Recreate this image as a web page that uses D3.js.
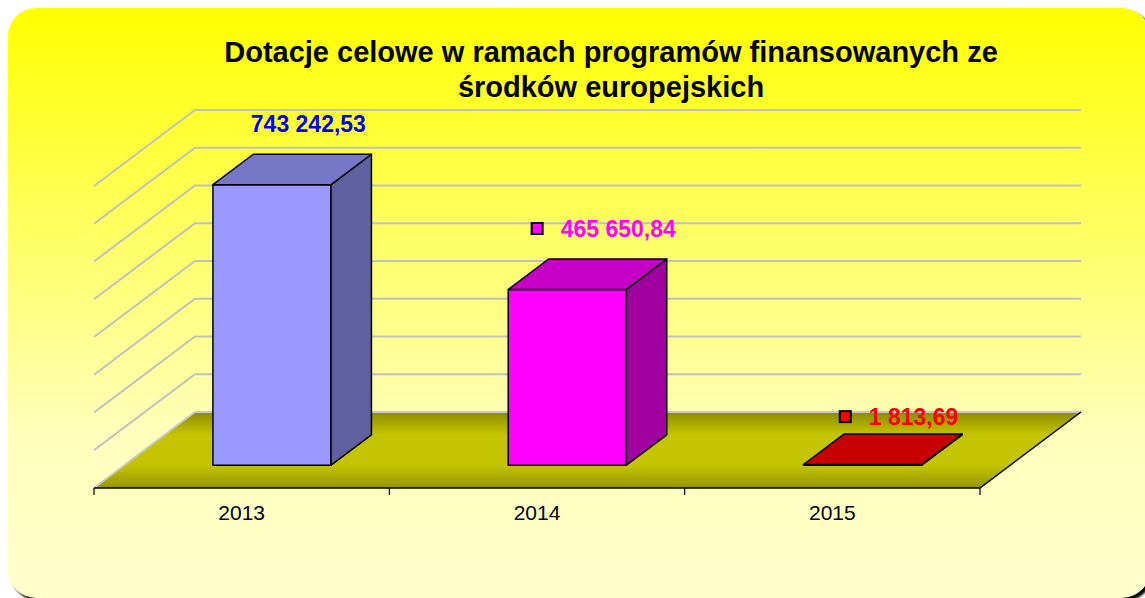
<!DOCTYPE html>
<html>
<head>
<meta charset="utf-8">
<script src="https://cdn.jsdelivr.net/npm/d3@7"></script>
<style>
  body { margin: 0; background: #ffffff; }
  text { font-family: "Liberation Sans", Arial, sans-serif; }
</style>
</head>
<body>
<svg id="chart" width="1145" height="598"></svg>
<script>
// data
var years = ["2013", "2014", "2015"];
var values = [743242.53, 465650.84, 1813.69];
var barColours = ["#9999ff", "#ff00ff", "#ff0000"];
var labelColours = ["#0000ff", "#ff00ff", "#ff0000"];
var showKey = [false, true, true];
var titleLines = ["Dotacje celowe w ramach programów finansowanych ze", "środków europejskich"];
var yMax = 800000, yStep = 100000;

var svg = d3.select("#chart");
var defs = svg.append("defs");

// panel background
var bg = defs.append("linearGradient").attr("id", "bg")
  .attr("x1", "0%").attr("y1", "0%").attr("x2", "0%").attr("y2", "100%");
bg.append("stop").attr("offset", 0).attr("stop-color", "#ffff00");
bg.append("stop").attr("offset", 0.72).attr("stop-color", "#ffffbc");
bg.append("stop").attr("offset", 1).attr("stop-color", "#ffffcc");

var floorGrad = defs.append("linearGradient").attr("id", "floor")
  .attr("x1", "0%").attr("y1", "0%").attr("x2", "0%").attr("y2", "100%");
floorGrad.append("stop").attr("offset", 0).attr("stop-color", "#8c8c00");
floorGrad.append("stop").attr("offset", 0.3).attr("stop-color", "#c4c400");
floorGrad.append("stop").attr("offset", 0.7).attr("stop-color", "#c4c400");
floorGrad.append("stop").attr("offset", 1).attr("stop-color", "#959500");

defs.append("filter").attr("id", "blur")
  .append("feGaussianBlur").attr("stdDeviation", 1);

svg.append("rect")
  .attr("x", 11).attr("y", 11).attr("width", 1142).attr("height", 590)
  .attr("rx", 28).attr("fill", "#000").attr("filter", "url(#blur)");
svg.append("rect")
  .attr("x", 8).attr("y", 8).attr("width", 1142).attr("height", 590)
  .attr("rx", 28).attr("fill", "url(#bg)");

// title
svg.append("text")
  .attr("x", 611).attr("y", 62)
  .attr("text-anchor", "middle")
  .style("font-size", "29px").style("font-weight", "bold")
  .selectAll("tspan").data(titleLines).enter().append("tspan")
  .attr("x", 611).attr("dy", function (d, i) { return i ? 35 : 0; })
  .text(function (d) { return d; });

// 3d geometry
var x0 = 94, x1 = 980, baseY = 488;
var depth = [101, -76];          // floor depth vector
var barFront = 0.3, barBack = 0.7;

var x = d3.scaleBand().domain(years).range([x0, x1]).paddingInner(0.6).paddingOuter(0.3);
var xCat = d3.scaleBand().domain(years).range([x0, x1]);
var h = d3.scaleLinear().domain([0, yMax]).range([0, 302]);

function pt(px, d, height) {
  return [px + d * depth[0], baseY + d * depth[1] - height];
}
function poly(points) {
  return points.map(function (p) { return p.join(","); }).join(" ");
}

// wall gridlines
var gridVals = d3.range(yStep, yMax + 1, yStep);
svg.append("g").selectAll("polyline").data(gridVals).enter().append("polyline")
  .attr("points", function (v) {
    return poly([pt(x0, 0, h(v)), pt(x0, 1, h(v)), pt(x1, 1, h(v))]);
  })
  .attr("fill", "none").attr("stroke", "#c0c0c0").attr("stroke-width", 2);

// floor
svg.append("polygon")
  .attr("points", poly([pt(x0, 0, 0), pt(x1, 0, 0), pt(x1, 1, 0), pt(x0, 1, 0)]))
  .attr("fill", "url(#floor)");
svg.append("polyline")
  .attr("points", poly([pt(x0, 0, 0), pt(x0, 1, 0), pt(x1, 1, 0)]))
  .attr("fill", "none").attr("stroke", "#c8c8c8").attr("stroke-width", 2);
svg.append("polyline")
  .attr("points", poly([pt(x0, 0, 0), pt(x1, 0, 0), pt(x1, 1, 0)]))
  .attr("fill", "none").attr("stroke", "#000").attr("stroke-width", 1.5);

// category axis
var axis = svg.append("g").attr("transform", "translate(0," + baseY + ")")
  .call(d3.axisBottom(xCat).tickSize(0).tickPadding(17));
axis.select(".domain").remove();
axis.selectAll("text")
  .style("font-family", "'Liberation Sans', Arial, sans-serif")
  .style("font-size", "21px").attr("fill", "#000");
svg.append("g").selectAll("line").data(years.map(xCat).concat([x1])).enter().append("line")
  .attr("x1", function (d) { return d; }).attr("x2", function (d) { return d; })
  .attr("y1", baseY).attr("y2", baseY + 7)
  .attr("stroke", "#000").attr("stroke-width", 1.2);

// bars
var bars = svg.append("g").selectAll("g").data(years).enter().append("g");
bars.each(function (yr, i) {
  var g = d3.select(this);
  var l = x(yr), r = x(yr) + x.bandwidth(), hv = h(values[i]);
  var c = d3.color(barColours[i]);
  var top = d3.rgb(c.r * 0.78, c.g * 0.78, c.b * 0.78);
  var side = d3.rgb(c.r * 0.63, c.g * 0.63, c.b * 0.63);
  g.append("polygon")
    .attr("points", poly([pt(l, barFront, 0), pt(r, barFront, 0), pt(r, barFront, hv), pt(l, barFront, hv)]))
    .attr("fill", c);
  g.append("polygon")
    .attr("points", poly([pt(r, barFront, 0), pt(r, barBack, 0), pt(r, barBack, hv), pt(r, barFront, hv)]))
    .attr("fill", side);
  g.append("polygon")
    .attr("points", poly([pt(l, barFront, hv), pt(r, barFront, hv), pt(r, barBack, hv), pt(l, barBack, hv)]))
    .attr("fill", top);
  g.selectAll("polygon").attr("stroke", "#000").attr("stroke-width", 1.5).attr("stroke-linejoin", "round");
});

// data labels
var pl = d3.formatLocale({ decimal: ",", thousands: " ", grouping: [3], currency: ["", ""] });
var fmt = pl.format(",.2f");
years.forEach(function (yr, i) {
  var hv = h(values[i]);
  var tb = pt(x(yr) + x.bandwidth() / 2, barBack, hv);
  var ly = tb[1] - (hv < 5 ? 9 : 22);
  var g = svg.append("g");
  var t = g.append("text").attr("y", ly)
    .style("font-size", "23px").style("font-weight", "bold")
    .attr("fill", labelColours[i]).text(fmt(values[i]));
  var tw = t.node().getComputedTextLength();
  var keyW = showKey[i] ? 29 : 0;
  var start = tb[0] - 4 - (tw + keyW) / 2;
  t.attr("x", start + keyW);
  if (showKey[i]) {
    g.append("rect").attr("x", start).attr("y", ly - 14).attr("width", 11).attr("height", 11)
      .attr("fill", barColours[i]).attr("stroke", "#000").attr("stroke-width", 2);
  }
});
</script>
</body>
</html>
